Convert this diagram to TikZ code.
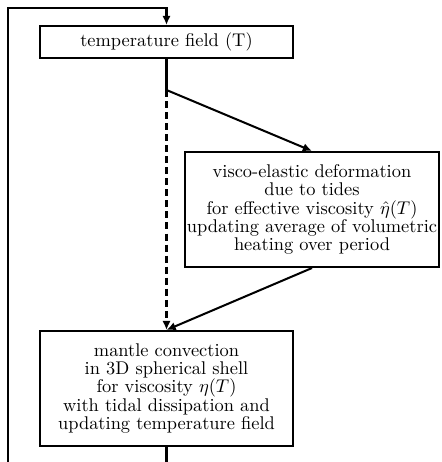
\documentclass[tikz,border=0pt]{standalone}
\usetikzlibrary{arrows.meta}
\begin{document}
\begin{tikzpicture}[x=0.5435pt,y=-0.5435pt,
  box/.style={draw,line width=1.1pt,align=center,inner xsep=0.5pt,inner ysep=0pt,
    font=\fontsize{10}{9.9}\selectfont},
  conn/.style={line width=1.1pt,-{Latex[length=5pt,width=4.6pt]}},
  plain/.style={line width=1.1pt}]
\useasboundingbox (0,0) rectangle (441,462);
\clip (0,0) rectangle (441,462);
\node[box,minimum width=137.5pt,minimum height=17.4pt] (temp) at (166.5,42) {temperature field (T)};
\node[box,minimum width=138pt,minimum height=62.5pt] (visco) at (312,209.5)
  {visco-elastic deformation\\due to tides\\for effective viscosity $\hat\eta(T)$\\updating average of volumetric\\heating over period};
\node[box,minimum width=137.5pt,minimum height=62.5pt] (mantle) at (166.5,388.5)
  {mantle convection\\in 3D spherical shell\\for viscosity $\eta(T)$\\with tidal dissipation and\\updating temperature field};
\coordinate (split) at (166.5,90);
\coordinate (below) at (166.5,480);
\coordinate (bl) at (8,480);
\coordinate (tl) at (8,8);
\coordinate (tr) at (166.5,8);
\draw[plain] (temp.south) -- (split);
\draw[conn,dash pattern=on 3.8pt off 2.2pt] (split) -- (mantle.north);
\draw[conn] (split) -- (visco.north);
\draw[conn] (visco.south) -- (mantle.north);
\draw[conn] (mantle.south) -- (below) -- (bl) -- (tl) -- (tr) -- (temp.north);
\end{tikzpicture}
\end{document}
